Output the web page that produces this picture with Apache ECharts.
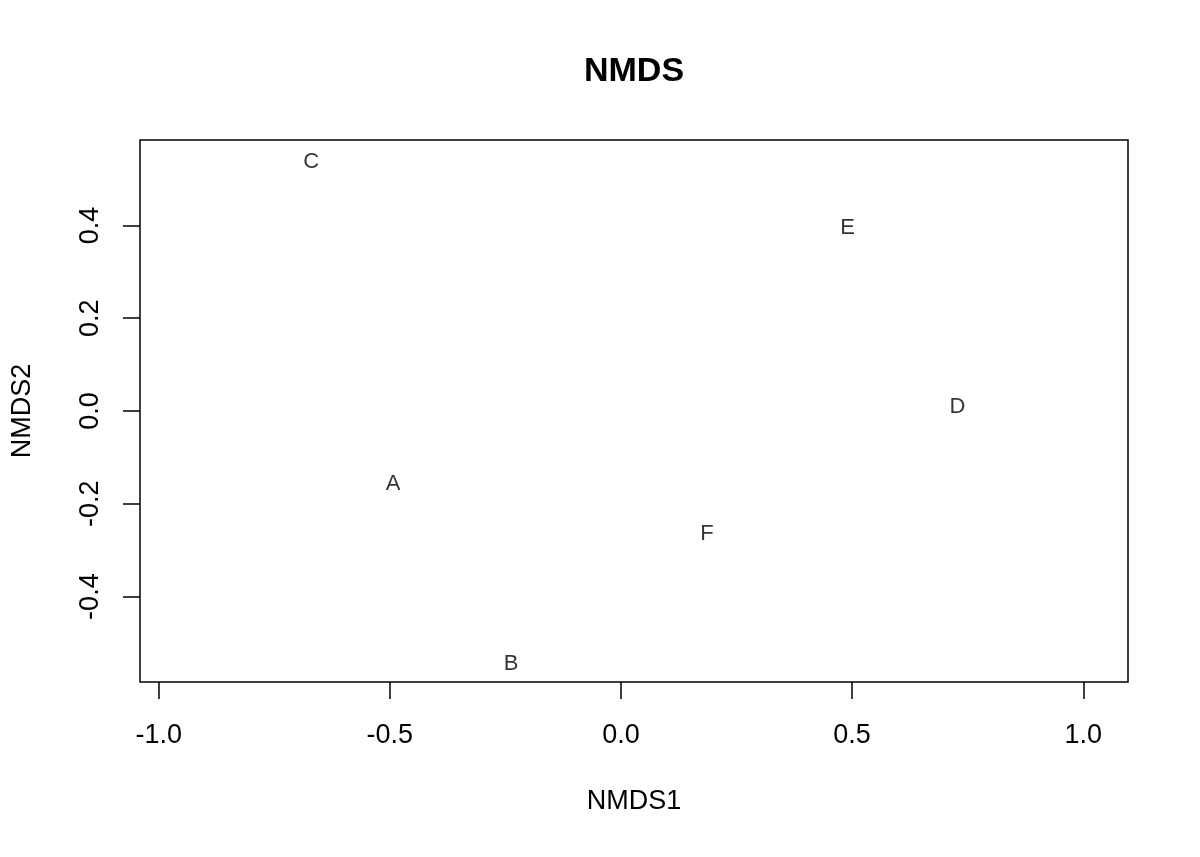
<!DOCTYPE html>
<html>
<head>
<meta charset="utf-8">
<script src="https://cdn.jsdelivr.net/npm/echarts@6/dist/echarts.min.js"></script>
<style>
html,body{margin:0;padding:0;background:#fff;}
#chart{width:1200px;height:857px;}
</style>
</head>
<body>
<div id="chart"></div>
<script>
// Data
var siteNames = ['A', 'B', 'C', 'D', 'E', 'F'];
var nmds1 = [-0.493, -0.238, -0.670, 0.728, 0.490, 0.186];
var nmds2 = [-0.153, -0.541, 0.540, 0.012, 0.399, -0.260];
var xTicks = [-1.0, -0.5, 0.0, 0.5, 1.0];
var yTicks = [-0.4, -0.2, 0.0, 0.2, 0.4];

var FONT = '"Liberation Sans", Arial, Helvetica, sans-serif';
var chart = echarts.init(document.getElementById('chart'), null, {renderer: 'canvas'});

var points = siteNames.map(function (n, i) {
  return {name: n, value: [nmds1[i], nmds2[i]]};
});

chart.setOption({
  backgroundColor: '#ffffff',
  animation: false,
  title: {
    text: 'NMDS',
    left: 629,
    top: 50,
    textAlign: 'center',
    textStyle: {fontFamily: FONT, fontSize: 34, fontWeight: 'bold', color: '#000'}
  },
  grid: {
    left: 140, right: 72, top: 140, bottom: 175,
    show: true, borderColor: '#000', borderWidth: 1.5, backgroundColor: 'transparent'
  },
  xAxis: {
    type: 'value',
    min: -1.0405, max: 1.0968,
    name: 'NMDS1', nameLocation: 'middle', nameGap: 106,
    nameTextStyle: {fontFamily: FONT, fontSize: 27, color: '#000'},
    axisLine: {show: false, onZero: false},
    splitLine: {show: false},
    axisTick: {show: true, length: 17, inside: false, customValues: xTicks,
      lineStyle: {color: '#000', width: 1.5}},
    axisLabel: {show: true, customValues: xTicks, margin: 40,
      fontFamily: FONT, fontSize: 27, color: '#000',
      formatter: function (v) { return Number(v).toFixed(1); }}
  },
  yAxis: {
    type: 'value',
    min: -0.584, max: 0.584,
    name: 'NMDS2', nameLocation: 'middle', nameGap: 104, nameRotate: 90,
    nameTextStyle: {fontFamily: FONT, fontSize: 27, color: '#000'},
    axisLine: {show: false, onZero: false},
    splitLine: {show: false},
    axisTick: {show: true, length: 17, inside: false, customValues: yTicks,
      lineStyle: {color: '#000', width: 1.5}},
    axisLabel: {show: true, customValues: yTicks, margin: 36, rotate: 90,
      fontFamily: FONT, fontSize: 27, color: '#000',
      formatter: function (v) { return Number(v).toFixed(1); }}
  },
  series: [{
    type: 'scatter',
    data: points,
    symbolSize: 1,
    itemStyle: {color: 'rgba(0,0,0,0)'},
    label: {
      show: true, position: 'inside', offset: [0, 2],
      formatter: '{b}',
      fontFamily: FONT, fontSize: 22, color: '#000', textBorderWidth: 0
    },
    emphasis: {disabled: true}
  }]
});
</script>
</body>
</html>
